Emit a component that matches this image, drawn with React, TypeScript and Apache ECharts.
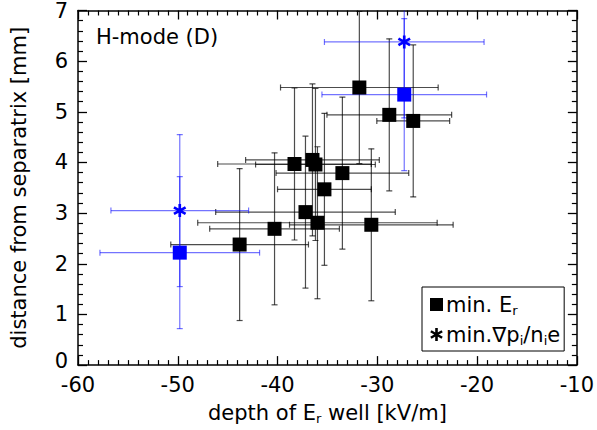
import React, { useEffect, useRef } from "react";
import * as echarts from "echarts";

// black squares: minimum of Er
const erX = [-43.8, -40.3, -38.3, -37.2, -36.5, -36.2, -36.0, -35.3, -33.5, -31.8, -30.6, -28.8, -26.4];
const erY = [2.38, 2.69, 3.97, 3.02, 4.05, 3.96, 2.81, 3.47, 3.79, 5.48, 2.77, 4.94, 4.82];
const erXErr = [6.9, 6.5, 7.7, 9.0, 6.7, 6.0, 12.0, 4.7, 6.65, 7.9, 8.2, 6.25, 3.65];
const erYErr = [1.5, 1.5, 1.5, 1.5, 1.5, 1.5, 1.5, 1.5, 1.5, 1.5, 1.5, 1.5, 1.5];

// blue squares: minimum of Er (compared case)
const blueErX = [-49.8, -27.3];
const blueErY = [2.22, 5.34];
const blueErXErr = [8.0, 8.25];
const blueErYErr = [1.5, 1.5];

// blue asterisks: minimum of grad p_i / n_i e
const gradX = [-49.8, -27.3];
const gradY = [3.05, 6.38];
const gradXErr = [6.9, 8.0];
const gradYErr = [1.5, 1.5];

const ASTERISK =
  "path://M-2,-10L2,-10L2,10L-2,10Z" +
  "M7.66,-6.73L9.66,-3.27L-7.66,6.73L-9.66,3.27Z" +
  "M-9.66,-3.27L-7.66,-6.73L9.66,3.27L7.66,6.73Z";

const FONT = "DejaVu Sans";

function errRender(color: string, opacity: number) {
  return (params: any, api: any) => {
    const x = api.value(0);
    const y = api.value(1);
    const xe = api.value(2);
    const ye = api.value(3);
    const l = api.coord([x - xe, y]);
    const r = api.coord([x + xe, y]);
    const t = api.coord([x, y + ye]);
    const b = api.coord([x, y - ye]);
    const c = 3;
    const style = { stroke: color, lineWidth: 1.2, opacity };
    const mk = (x1: number, y1: number, x2: number, y2: number) => ({
      type: "line",
      shape: { x1, y1, x2, y2 },
      style,
    });
    return {
      type: "group",
      children: [
        mk(l[0], l[1], r[0], r[1]),
        mk(l[0], l[1] - c, l[0], l[1] + c),
        mk(r[0], r[1] - c, r[0], r[1] + c),
        mk(t[0], t[1], b[0], b[1]),
        mk(t[0] - c, t[1], t[0] + c, t[1]),
        mk(b[0] - c, b[1], b[0] + c, b[1]),
      ],
    };
  };
}

export default function App() {
  const ref = useRef<HTMLDivElement>(null);
  useEffect(() => {
    if (!ref.current) return;
    const chart = echarts.init(ref.current, null, { renderer: "svg" });
    const axisCommon = {
      type: "value" as const,
      axisLine: { show: true, onZero: false, lineStyle: { color: "#000", width: 1.5 } },
      axisTick: { show: true, inside: true, length: 9, lineStyle: { color: "#000", width: 1.3 } },
      minorTick: { show: true, length: 5, lineStyle: { color: "#000", width: 1.2 } },
      splitLine: { show: false },
      minorSplitLine: { show: false },
    };
    const errData = erX.map((x, i) => [x, erY[i], erXErr[i], erYErr[i]]);
    const blueErrData = [
      ...blueErX.map((x, i) => [x, blueErY[i], blueErXErr[i], blueErYErr[i]]),
      ...gradX.map((x, i) => [x, gradY[i], gradXErr[i], gradYErr[i]]),
    ];
    chart.setOption({
      animation: false,
      backgroundColor: "#fff",
      textStyle: { fontFamily: FONT },
      grid: { left: 78, right: 13, top: 10, bottom: 60, containLabel: false },
      xAxis: [
        {
          ...axisCommon,
          position: "bottom",
          min: -60,
          max: -10,
          interval: 10,
          minorTick: { ...axisCommon.minorTick, splitNumber: 10 },
          axisLabel: { color: "#000", fontSize: 21, fontFamily: FONT, margin: 9 },
          name: "depth of E{sub|r} well [kV/m]",
          nameLocation: "middle",
          nameGap: 29,
          nameTextStyle: {
            color: "#000",
            fontSize: 21,
            fontFamily: FONT,
            lineHeight: 25,
            rich: {
              sub: { fontSize: 13, fontFamily: FONT, verticalAlign: "bottom", lineHeight: 10 },
            },
          },
        },
        {
          ...axisCommon,
          position: "top",
          min: -60,
          max: -10,
          interval: 10,
          minorTick: { ...axisCommon.minorTick, splitNumber: 10 },
          axisLabel: { show: false },
        },
      ],
      yAxis: [
        {
          ...axisCommon,
          position: "left",
          min: 0,
          max: 7,
          interval: 1,
          minorTick: { ...axisCommon.minorTick, splitNumber: 5 },
          axisLabel: {
            color: "#000",
            fontSize: 21,
            fontFamily: FONT,
            margin: 10,
            formatter: (v: number) => (v === 0 ? "{z|0}" : String(v)),
            rich: { z: { fontSize: 21, fontFamily: FONT, color: "#000", padding: [0, 0, 9, 0] } },
          },
          name: "distance from separatrix [mm]",
          nameLocation: "middle",
          nameGap: 49,
          nameTextStyle: { color: "#000", fontSize: 21, fontFamily: FONT },
        },
        {
          ...axisCommon,
          position: "right",
          min: 0,
          max: 7,
          interval: 1,
          minorTick: { ...axisCommon.minorTick, splitNumber: 5 },
          axisLabel: { show: false },
        },
      ],
      legend: {
        orient: "vertical",
        left: 422,
        top: 287,
        padding: [5, 4, 4, 8],
        itemGap: 5,
        itemWidth: 13,
        itemHeight: 13,
        borderColor: "#000",
        borderWidth: 1,
        backgroundColor: "#fff",
        data: [
          { name: "min. Er", icon: "rect", itemStyle: { color: "#000" } },
          { name: "min.∇pi/nie", icon: ASTERISK, itemStyle: { color: "#000" } },
        ],
        formatter: (name: string) =>
          name === "min. Er" ? "min. E{sub|r}" : "min.∇p{sub|i}/n{sub|i}e",
        textStyle: {
          color: "#000",
          fontSize: 21,
          fontFamily: FONT,
          lineHeight: 25,
          padding: [0, 0, 0, -2],
          rich: {
            sub: { fontSize: 13, fontFamily: FONT, verticalAlign: "bottom", lineHeight: 10 },
          },
        },
      },
      graphic: [
        {
          type: "text",
          x: 96,
          y: 37,
          style: {
            text: "H-mode (D)",
            fill: "#000",
            font: `21px "${FONT}"`,
            verticalAlign: "middle",
          },
        },
      ],
      series: [
        {
          type: "custom",
          name: "errEr",
          renderItem: errRender("#000", 0.7),
          data: errData,
          encode: { x: 0, y: 1 },
          clip: true,
          z: 1,
          silent: true,
        },
        {
          type: "custom",
          name: "errBlue",
          renderItem: errRender("#0000ff", 0.55),
          data: blueErrData,
          encode: { x: 0, y: 1 },
          clip: true,
          z: 2,
          silent: true,
        },
        {
          type: "scatter",
          name: "min. Er",
          symbol: "rect",
          symbolSize: 14,
          itemStyle: { color: "#000", opacity: 1 },
          data: erX.map((x, i) => [x, erY[i]]),
          z: 5,
        },
        {
          type: "scatter",
          name: "min. Er (blue)",
          symbol: "rect",
          symbolSize: 14,
          itemStyle: { color: "#0000ff", opacity: 1 },
          data: blueErX.map((x, i) => [x, blueErY[i]]),
          z: 6,
        },
        {
          type: "scatter",
          name: "min.∇pi/nie",
          symbol: ASTERISK,
          symbolSize: 13,
          itemStyle: { color: "#0000ff", opacity: 1 },
          data: gradX.map((x, i) => [x, gradY[i]]),
          z: 6,
        },
      ],
    });
    return () => chart.dispose();
  }, []);
  return <div ref={ref} style={{ width: 597, height: 430, position: "absolute", left: 0, top: 0 }} />;
}
